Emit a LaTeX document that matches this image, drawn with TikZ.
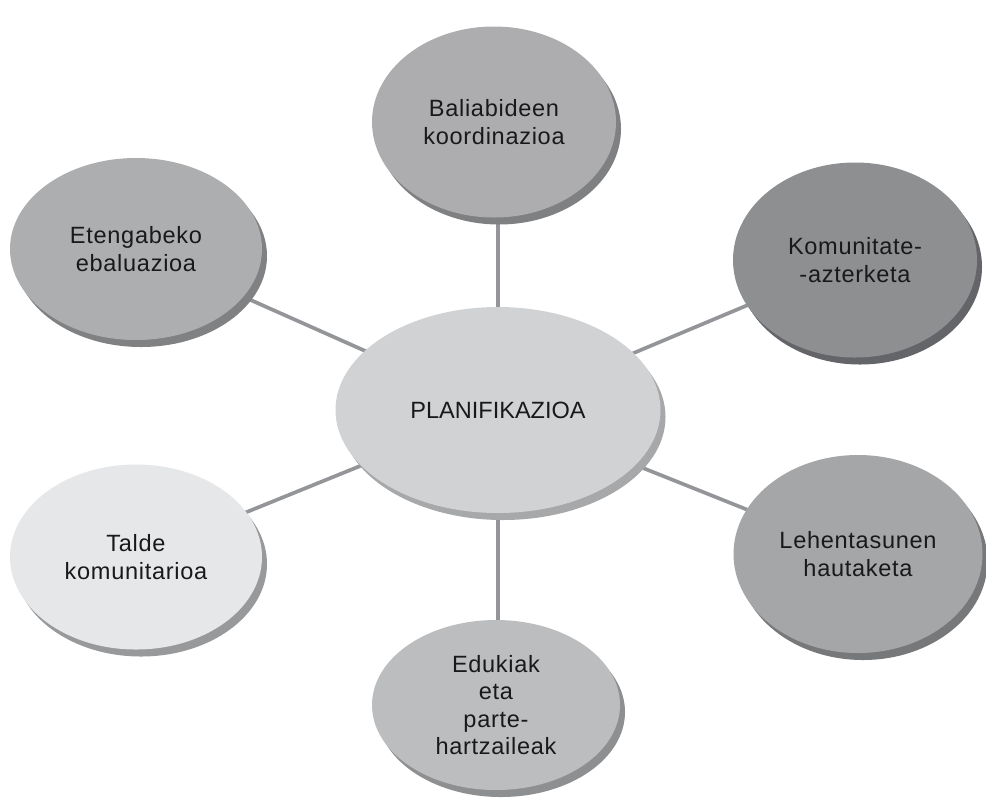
\documentclass[tikz,border=0pt]{standalone}
\usepackage{fontspec}
\setmainfont{Liberation Sans}
\newfontfamily\bubblefont{Liberation Sans}[LetterSpace=3]
\usetikzlibrary{shapes.geometric, shadows, backgrounds}

\definecolor{spokegray}{RGB}{147,149,152}
\definecolor{planfill}{RGB}{209,210,212}
\definecolor{planshade}{RGB}{167,168,170}
\definecolor{balfill}{RGB}{173,173,175}
\definecolor{balshade}{RGB}{127,128,130}
\definecolor{komfill}{RGB}{142,143,145}
\definecolor{komshade}{RGB}{100,101,104}
\definecolor{etenfill}{RGB}{173,174,176}
\definecolor{etenshade}{RGB}{128,129,131}
\definecolor{taldefill}{RGB}{230,231,232}
\definecolor{taldeshade}{RGB}{152,153,155}
\definecolor{lehfill}{RGB}{165,166,168}
\definecolor{lehshade}{RGB}{119,120,122}
\definecolor{edufill}{RGB}{188,189,191}
\definecolor{edushade}{RGB}{142,143,145}

\begin{document}
\begin{tikzpicture}[
	bubble/.style={ellipse, draw=none, inner sep=0pt, align=center, text=black!90,
		font=\bubblefont\fontsize{13.4}{15.7}\selectfont, minimum width=4.9cm, minimum height=3.7cm},
	shade/.style={drop shadow={shadow xshift=0.1cm, shadow yshift=-0.14cm, opacity=1, fill=#1}},
	spoke/.style={draw=spokegray, line width=2.1pt},
	]
	\useasboundingbox (0,0) rectangle (19.72,-16.04);
	%Nodes
	\node[bubble, fill=planfill, shade=planshade,
	font=\fontsize{13.4}{16}\selectfont,
	minimum width=6.5cm, minimum height=4.12cm] (plan) at (9.96,-8.2) {PLANIFIKAZIOA};
	%
	\node[bubble, fill=balfill, shade=balshade,
	minimum width=4.88cm, minimum height=3.82cm] (bal) at (9.88,-2.44) {Baliabideen\\koordinazioa};
	%
	\node[bubble, fill=komfill, shade=komshade,
	minimum width=4.88cm, minimum height=3.9cm] (kom) at (17.1,-5.2) {Komunitate-\\-azterketa};
	%
	\node[bubble, fill=etenfill, shade=etenshade,
	minimum width=5.04cm, minimum height=3.64cm] (eten) at (2.72,-4.98) {Etengabeko\\ebaluazioa};
	%
	\node[bubble, fill=taldefill, shade=taldeshade,
	minimum width=5.04cm, minimum height=3.7cm] (talde) at (2.72,-11.14) {Talde\\komunitarioa};
	%
	\node[bubble, fill=lehfill, shade=lehshade,
	minimum width=4.98cm, minimum height=3.96cm] (leh) at (17.16,-11.08) {Lehentasunen\\hautaketa};
	%
	\node[bubble, fill=edufill, shade=edushade,
	minimum width=4.96cm, minimum height=3.4cm] (edu) at (9.92,-14.1) {Edukiak\\eta\\parte-\\hartzaileak};
	
	%Spokes
	\begin{scope}[on background layer]
	\draw[spoke] (plan.center) -- (plan.center |- bal.center);
	\draw[spoke] (plan.center) -- (plan.center |- edu.center);
	\draw[spoke] (plan.center) -- (kom.center);
	\draw[spoke] (plan.center) -- (eten.center);
	\draw[spoke] (plan.center) -- (talde.center);
	\draw[spoke] (plan.center) -- (leh.center);
	\end{scope}
\end{tikzpicture}
\end{document}
